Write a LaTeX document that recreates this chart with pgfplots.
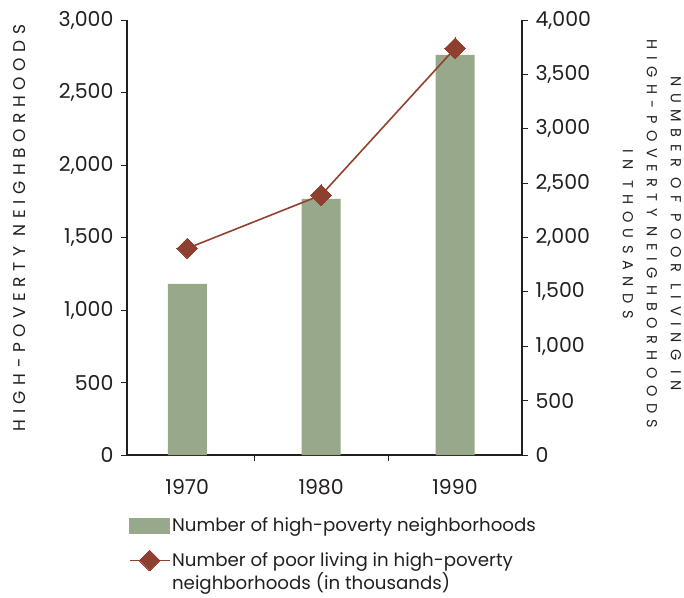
\documentclass[border=0pt]{standalone}
\usepackage{pgfplots}
\pgfplotsset{compat=1.18}
\usepackage{fontspec}
\setmainfont{Poppins}
\newfontfamily\labelfontL[LetterSpace=33]{Poppins}
\newfontfamily\labelfontR[LetterSpace=45]{Poppins}
\definecolor{barcol}{HTML}{97A98A}
\definecolor{linecol}{HTML}{94402F}
\definecolor{markcol}{HTML}{8E3F30}
\definecolor{txt}{HTML}{231F20}
\pgfplotsset{
  mylineleg/.style={legend image code/.code={\draw[mark repeat=2,mark phase=2,##1, line width=0.9pt] plot coordinates {(0pt,11.5pt) (20pt,11.5pt) (40pt,11.5pt)};}},
  mybarleg/.style={legend image code/.code={\fill[barcol] (0pt,-7.5pt) rectangle (40pt,7.5pt);}},
}
\begin{document}
\begin{tikzpicture}[x=1pt,y=1pt]
\path[use as bounding box] (0,0) rectangle (684,597);
\pgfplotsset{
  common/.style={
    at={(127pt,142pt)}, anchor=south west,
    scale only axis, width=395pt, height=435pt,
    xmin=-0.45, xmax=2.5,
    tick align=outside,
    major tick length=6pt, minor tick length=6pt,
    axis line style={txt, line width=1.6pt, -},
    tick style={txt, line width=0.8pt},
    /pgf/number format/assume math mode=true,
    /pgf/number format/1000 sep={,},
    scaled ticks=false,
    tick label style={font=\fontsize{20.5}{24}\selectfont, text=txt},
  }
}
\begin{axis}[common,
  ymin=0, ymax=3000,
  axis x line*=bottom, axis y line*=left,
  xtick={0,1,2}, xticklabels={1970,1980,1990},
  major x tick style={draw=none},
  minor xtick={0.5,1.5},
  xticklabel style={yshift=-15pt},
  yticklabel style={xshift=-4pt},
  ytick={0,500,...,3000},
  every axis y label/.style={at={(axis description cs:-0.272,0.522)}, rotate=90, anchor=center,
    font=\labelfontL\fontsize{17}{20}\selectfont, text=txt},
  ylabel={HIGH-POVERTY NEIGHBORHOODS},
]
\addplot[ybar, bar width=39pt, fill=barcol, draw=none] coordinates {(0,1180) (1,1766) (2,2760)};
\end{axis}
\begin{axis}[common,
  ymin=0, ymax=4000,
  axis x line=none, axis y line*=right,
  ytick={0,500,...,4000},
  yticklabel style={xshift=4pt},
  every axis y label/.style={at={(axis description cs:1.329,0.508)}, rotate=-90, anchor=center, align=center,
    font=\labelfontR\fontsize{14.5}{24}\selectfont, text=txt},
  ylabel={NUMBER OF POOR LIVING IN\\HIGH-POVERTY NEIGHBORHOODS\\IN THOUSANDS},
  legend style={at={(axis description cs:0.005,-0.139)}, anchor=north west, draw=none, fill=none,
    inner sep=0pt, font=\fontsize{18.2}{22.5}\selectfont, text=txt,
    cells={anchor=west, align=left}, row sep=15pt},
  legend cell align=left,
]
\addlegendimage{mybarleg}
\addlegendentry{Number of high-poverty neighborhoods}
\addplot[linecol, line width=1.6pt, mark=square*, mark size=7.3pt,
  mark options={rotate=45, fill=markcol, draw=markcol, line width=0pt}, mylineleg]
  coordinates {(0,1900) (1,2390) (2,3740)};
\addlegendentry{Number of poor living in high-poverty\\neighborhoods (in thousands)}
\end{axis}
\end{tikzpicture}
\end{document}
